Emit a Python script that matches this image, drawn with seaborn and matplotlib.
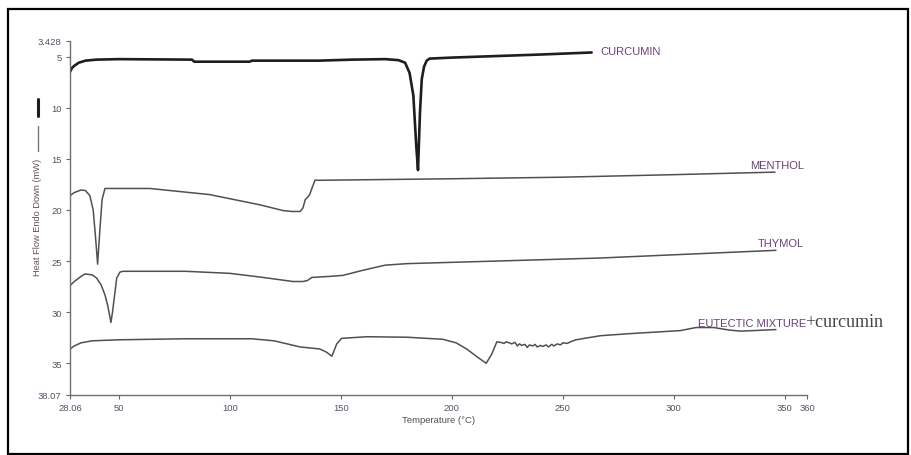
import numpy as np
import pandas as pd
import matplotlib
matplotlib.use("Agg")
import matplotlib.pyplot as plt
import seaborn as sns
from matplotlib.lines import Line2D
from matplotlib.patches import Rectangle

# ---------------- data ----------------
curcumin_T = [28.06, 29, 30, 32, 35, 40, 50, 83, 84, 109, 110, 140, 155, 170, 176, 179,
              181, 182.7, 184, 184.8, 185.7, 186.5, 187.5, 188.7, 190, 200, 220, 240, 263]
curcumin_v = [6.5, 6.1, 5.9, 5.6, 5.4, 5.3, 5.25, 5.3, 5.5, 5.5, 5.4, 5.4, 5.3, 5.25, 5.35, 5.6,
              6.6, 8.8, 13.7, 16.1, 10.4, 7.2, 6.0, 5.4, 5.2, 5.1, 4.95, 4.8, 4.6]

menthol_T = [28.06, 30, 33, 35, 37, 38.5, 39.5, 40.5, 41.5, 42.5, 43.8, 45, 64, 91, 113.6, 124,
             128, 131.7, 133, 134, 135.3, 136, 137, 138.4, 140, 200, 249, 300, 345.6]
menthol_v = [18.6, 18.3, 18.05, 18.1, 18.6, 20.0, 22.5, 25.3, 22.0, 19.0, 17.9, 17.9, 17.9, 18.5,
             19.5, 20.06, 20.15, 20.15, 19.8, 19.0, 18.7, 18.5, 17.9, 17.08, 17.1, 16.95, 16.8,
             16.55, 16.3]

thymol_T = [28.06, 30, 33, 34.8, 38, 40, 42, 43.8, 45, 45.8, 46.5, 47.2, 48, 49.1, 50.6, 52, 80,
            100, 115, 128.5, 133, 135, 137, 145, 151, 160, 170, 180, 220, 267, 346]
thymol_v = [27.4, 27.0, 26.5, 26.26, 26.35, 26.65, 27.3, 28.3, 29.3, 30.2, 31.0, 30.0, 28.6, 26.65,
            26.07, 26.0, 26.0, 26.2, 26.6, 27.0, 27.0, 26.9, 26.6, 26.5, 26.4, 25.9, 25.4, 25.25,
            25.0, 24.7, 23.95]

eutectic_T = [28.06, 30, 33, 38, 50, 80, 110, 120, 131.7, 140.6, 143.5, 146, 148.2, 150.4, 161.7,
              180, 196, 202, 206.7, 211, 215.5, 218, 220.3, 222, 223.5, 224.5, 226, 227, 228.5,
              229.5, 230.5, 231.5, 233, 234, 235, 236.5, 237.5, 238.5, 240, 241, 242.5, 243.5,
              245, 246, 247.5, 249, 250, 252, 254, 256, 260, 267, 280, 303, 310, 318, 325, 330,
              336, 346]
eutectic_v = [33.6, 33.3, 33.0, 32.8, 32.7, 32.6, 32.6, 32.8, 33.4, 33.6, 33.9, 34.3, 33.1, 32.56,
              32.4, 32.45, 32.65, 33.0, 33.6, 34.3, 35.0, 34.1, 32.9, 32.95, 33.05, 32.9, 33.0,
              33.1, 32.95, 33.3, 33.1, 33.25, 33.15, 33.45, 33.2, 33.3, 33.15, 33.4, 33.25,
              33.35, 33.2, 33.4, 33.15, 33.3, 33.1, 33.2, 33.0, 33.05, 32.85, 32.7, 32.55,
              32.3, 32.1, 31.8, 31.5, 31.5, 31.75, 31.85, 31.8, 31.7]

series_names = ["CURCUMIN", "MENTHOL", "THYMOL", "EUTECTIC MIXTURE"]
x_ticks = [28.06, 50, 100, 150, 200, 250, 300, 350, 360]
x_tick_labels = ["28.06", "50", "100", "150", "200", "250", "300", "350", "360"]
y_ticks = [3.428, 5, 10, 15, 20, 25, 30, 35, 38.07]
y_tick_labels = ["3.428", "5", "10", "15", "20", "25", "30", "35", "38.07"]

# ---------------- figure ----------------
sns.set_style("white")
plt.rcParams["font.family"] = ["Liberation Sans", "DejaVu Sans"]

fig = plt.figure(figsize=(9.11, 4.56), dpi=100)
ax = fig.add_axes([70 / 911, 1 - 395.7 / 456, (807 - 70) / 911, (395.7 - 41.5) / 456])

frames = [
    pd.DataFrame({"T": curcumin_T, "v": curcumin_v}),
    pd.DataFrame({"T": menthol_T, "v": menthol_v}),
    pd.DataFrame({"T": thymol_T, "v": thymol_v}),
    pd.DataFrame({"T": eutectic_T, "v": eutectic_v}),
]
styles = [("#1e1e1e", 1.9), ("#505050", 1.1), ("#505050", 1.1), ("#505050", 1.1)]
for df, (col, lw) in zip(frames, styles):
    sns.lineplot(data=df, x="T", y="v", ax=ax, color=col, linewidth=lw,
                 sort=False, estimator=None)

ax.set_xlim(28.06, 360)
ax.set_ylim(38.07, 3.428)
ax.set_xticks(x_ticks)
ax.set_xticklabels(x_tick_labels)
ax.set_yticks(y_ticks)
ax.set_yticklabels(y_tick_labels)
tick_col = "#5a5064"
ax.tick_params(axis="both", direction="out", length=3, width=0.8, color="#666666",
               labelsize=6.8, labelcolor=tick_col, pad=3,
               bottom=True, left=True)
for s in ["top", "right"]:
    ax.spines[s].set_visible(False)
for s in ["left", "bottom"]:
    ax.spines[s].set_color("#707070")
    ax.spines[s].set_linewidth(1.0)
ax.set_xlabel("")
ax.set_ylabel("")
ax.grid(False)

# axis titles
fig.text(439 / 911, 1 - 421 / 456, "Temperature (°C)", ha="center", va="center",
         fontsize=6.8, color="#505050")
fig.text(38 / 911, 1 - 217 / 456, "Heat Flow Endo Down (mW)", ha="center", va="center",
         rotation=90, fontsize=6.7, color="#6a4a5a")
fig.add_artist(Line2D([38 / 911, 38 / 911], [1 - 100 / 456, 1 - 117 / 456],
                      color="#1e1e1e", linewidth=2.2))
fig.add_artist(Line2D([38 / 911, 38 / 911], [1 - 127 / 456, 1 - 152 / 456],
                      color="#777777", linewidth=1.0))

# series labels
lab_col = "#6b3f78"
ax.text(266.8, 4.7, series_names[0], fontsize=8, color=lab_col, va="baseline", ha="left")
ax.text(334.4, 15.85, series_names[1], fontsize=8, color=lab_col, va="baseline", ha="left")
ax.text(338.0, 23.55, series_names[2], fontsize=8, color=lab_col, va="baseline", ha="left")
ax.text(310.8, 31.35, series_names[3], fontsize=8, color=lab_col, va="baseline", ha="left")
ax.text(359.3, 31.35, "+curcumin", fontsize=13, color="#444444", va="baseline", ha="left",
        family=["Liberation Serif", "DejaVu Serif"], clip_on=False)

# outer frame
fig.add_artist(Rectangle((8 / 911, 0.002), 1 - 8 / 911 - 0.003, 1 - 10 / 456 - 0.002,
                         transform=fig.transFigure, fill=False, edgecolor="black",
                         linewidth=1.6))

fig.savefig("out.png", dpi=100)
